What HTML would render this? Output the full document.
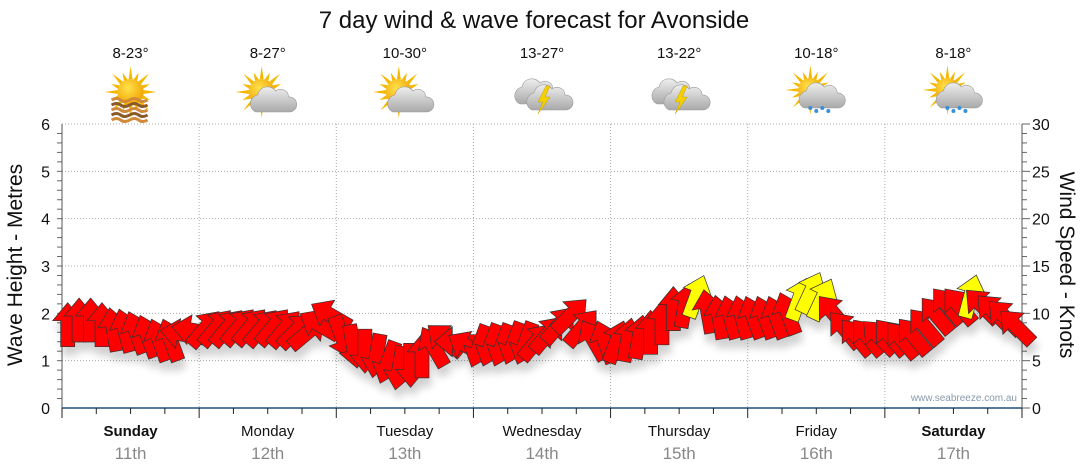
<!DOCTYPE html>
<html><head><meta charset="utf-8">
<style>
html,body{margin:0;padding:0;background:#fff;}
svg{display:block;font-family:"Liberation Sans",Arial,sans-serif;}
</style></head>
<body>
<svg id="chart" width="1080" height="475" viewBox="0 0 1080 475">
<defs>
<filter id="shadow" x="-50%" y="-50%" width="200%" height="200%">
<feGaussianBlur in="SourceAlpha" stdDeviation="4"/>
<feOffset dx="2" dy="9" result="b"/>
<feComponentTransfer><feFuncA type="linear" slope="0.18"/></feComponentTransfer>
<feMerge><feMergeNode/><feMergeNode in="SourceGraphic"/></feMerge>
</filter>
<radialGradient id="sunG" cx="0.4" cy="0.35" r="0.7"><stop offset="0" stop-color="#ffe24a"/><stop offset="1" stop-color="#f0a000"/></radialGradient>
<linearGradient id="cloudG" x1="0" y1="0" x2="0" y2="1"><stop offset="0" stop-color="#eeeeee"/><stop offset="1" stop-color="#a9a9a9"/></linearGradient>
</defs>
<text x="534" y="28" text-anchor="middle" font-size="24" fill="#111">7 day wind &amp; wave forecast for Avonside</text>
<g id="grid"></g>
<g id="axes"></g>
<g id="icons"></g>
<g id="arrows" filter="url(#shadow)"></g>
<text x="1017" y="401" text-anchor="end" font-size="10" fill="#8899aa">www.seabreeze.com.au</text>
<text transform="translate(22,265) rotate(-90)" text-anchor="middle" font-size="21" fill="#111">Wave Height - Metres</text>
<text transform="translate(1060,265) rotate(90)" text-anchor="middle" font-size="21" fill="#111">Wind Speed - Knots</text>
</svg>
<script>
const days = ["Sunday","Monday","Tuesday","Wednesday","Thursday","Friday","Saturday"];
const dates = ["11th","12th","13th","14th","15th","16th","17th"];
const boldDays = [true,false,false,false,false,false,true];
const temps = ["8-23°","8-27°","10-30°","13-27°","13-22°","10-18°","8-18°"];
const icons = ["sunhaze","partly","partly","storm","storm","rain","rain"];
const waveTicks = [0,1,2,3,4,5,6];
const windTicks = [0,5,10,15,20,25,30];
// wind speed every 2 hours (knots)
const windSpeed = [
8.8,9.3,9.3,8.8,8.3,8.2,8,7.6,7.2,7.2,7.8,8.2,
8.4,8.5,8.5,8.6,8.6,8.5,8.6,8.4,8.2,8,8.8,9.8,
7.5,6.5,6,5.5,4.8,4.2,4.5,5.5,6.5,7.2,7,6.5,
6.5,6.6,6.6,6.8,6.8,7,7.8,8.8,9.8,8.5,7.2,7,
7,7.2,7.5,8,9,10.5,10.8,11.8,10.2,9.6,9.6,9.6,
9.6,9.6,9.6,10,11.5,12.2,11.5,10,8.3,7.5,7.5,7.5,
7.5,7.2,7.6,8.6,9.8,10.8,10.8,11.8,10.8,10.2,9.6,8.6];
// direction the arrow points (deg, 0 = up, clockwise)
const windDir = [
0,0,0,0,-10,-15,-20,-20,-20,-20,-80,-80,
40,40,40,40,40,40,40,40,45,50,-60,-60,
160,170,180,190,200,190,180,0,-30,-50,-90,-60,
200,200,200,200,200,40,40,40,45,40,-30,-20,
20,10,10,0,0,0,10,20,-10,-10,-15,-15,
-20,-20,-20,-20,20,25,25,-40,-40,-40,-40,-45,
-40,-40,-40,-40,-40,-40,-40,15,-45,-45,-45,-45];

const svg = document.getElementById('chart');
const NS = "http://www.w3.org/2000/svg";
const X0=62, X1=1022, Y0=408, Y1=124;
const xH = h => X0 + h/168*(X1-X0);
const yWave = m => Y0 - m/6*(Y0-Y1);
const yWind = k => Y0 - k/30*(Y0-Y1);
function mk(tag, attrs, parent, text){
  const e=document.createElementNS(NS,tag);
  for(const k in attrs) e.setAttribute(k,attrs[k]);
  if(text!==undefined) e.textContent=text;
  parent.appendChild(e); return e;
}
const grid=document.getElementById('grid'), axes=document.getElementById('axes');
waveTicks.forEach(t=>{
  if(t>0){ const l=mk('line',{x1:X0,x2:X1,y1:yWave(t),y2:yWave(t),stroke:'#aaa','stroke-dasharray':'1,2'},grid);
    }
  const tx=mk('text',{x:X0-12,y:yWave(t)+6,'text-anchor':'end','font-size':16,fill:'#111'},axes,String(t));
   
});
for(let i=1;i<30;i++){
  const y=yWave(i*0.2);
  mk('line',{x1:X0-5,x2:X0,y1:y,y2:y,stroke:'#666'},axes);
}
for(let i=0;i<=30;i++){ const y=yWind(i); mk('line',{x1:X1,x2:X1+(i%5===0?8:5),y1:y,y2:y,stroke:'#666'},axes); }
windTicks.forEach(t=>{
  const tx=mk('text',{x:X1+10,y:yWind(t)+6,'font-size':16,fill:'#111'},axes,String(t));
   
});
mk('line',{x1:X0,x2:X0,y1:Y1,y2:Y0,stroke:'#555'},axes);
mk('line',{x1:X1,x2:X1,y1:Y1,y2:Y0,stroke:'#555'},axes);
const xa=mk('line',{x1:X0,x2:X1,y1:Y0,y2:Y0,stroke:'#1f4e79','stroke-width':1.5},axes);
 
for(let h=0;h<=168;h+=6){
  const x=xH(h); const major=h%24===0;
  mk('line',{x1:x,x2:x,y1:Y0,y2:Y0+(major?10:6),stroke:'#222'},axes);
  if(major && h>0 && h<168){ const g=mk('line',{x1:x,x2:x,y1:Y1,y2:Y0,stroke:'#aaa','stroke-dasharray':'1,2'},grid);
     }
}
days.forEach((d,i)=>{
  const cx=xH(i*24+12);
  const t=mk('text',{x:cx,y:436,'text-anchor':'middle','font-size':15,fill:'#111','font-weight':boldDays[i]?'bold':'normal'},axes,d);
   
  const t2=mk('text',{x:cx,y:459,'text-anchor':'middle','font-size':17,fill:'#888'},axes,dates[i]);
   
  const t3=mk('text',{x:cx,y:58,'text-anchor':'middle','font-size':15,fill:'#111'},axes,temps[i]);
   
  drawIcon(icons[i],cx,96);
});
function sun(g,x,y,r){
  for(let a=0;a<360;a+=22.5){
    const rad=a*Math.PI/180, L=(a%45===0)?r+13:r+8;
    const p1=[x+Math.cos(rad)*L,y+Math.sin(rad)*L];
    const p2=[x+Math.cos(rad+0.15)*r,y+Math.sin(rad+0.15)*r];
    const p3=[x+Math.cos(rad-0.15)*r,y+Math.sin(rad-0.15)*r];
    mk('polygon',{points:[p1,p2,p3].map(p=>p.join(',')).join(' '),fill:'#f5b800'},g);
  }
  mk('circle',{cx:x,cy:y,r:r,fill:'url(#sunG)'},g);
}
function cloud(g,x,y,s){
  mk('path',{d:`M${x-16*s},${y+10*s} a9 9 0 0 1 2,-17 a10 10 0 0 1 18,-4 a8 8 0 0 1 13,6 a7 7 0 0 1 1,15 z`,fill:'url(#cloudG)',stroke:'#999','stroke-width':0.6},g);
}
function drawIcon(type,x,y){
  const g=mk('g',{},document.getElementById('icons'));
   
  if(type==='sunhaze'){
    sun(g,x,y-4,13);
    for(let i=0;i<5;i++) mk('path',{d:`M${x-19},${y+4+i*5} q5,-3 9,0 t9,0 t9,0 t9,0`,stroke:i%2?'#8b5a2b':'#d08a3a','stroke-width':3,fill:'none'},g);
  } else if(type==='partly'){
    sun(g,x-6,y-4,13); cloud(g,x+4,y+6,1);
  } else if(type==='storm'){
    cloud(g,x-6,y-2,1); cloud(g,x+6,y+4,1);
    mk('polygon',{points:`${x+4},${y-10} ${x-4},${y+6} ${x+1},${y+6} ${x-4},${y+18} ${x+8},${y+1} ${x+3},${y+1} ${x+8},${y-10}`,fill:'#f5d000',stroke:'#c9a000','stroke-width':0.5},g);
  } else {
    sun(g,x-6,y-6,12); cloud(g,x+4,y+2,1);
    for(let i=0;i<4;i++){ mk('circle',{cx:x-6+i*6,cy:y+12+(i%2)*3,r:2,fill:'#3a8fd8'},g); }
  }
}
const ag=document.getElementById('arrows');
windSpeed.forEach((s,i)=>{
  const x=xH(i*2+1), y=yWind(s), r=windDir[i];
  const p=mk('polygon',{points:'0,-22 15,-4 7,-4 7,22 -7,22 -7,-4 -15,-4',
    fill:s>=11?'#ffff00':'#ff0000',stroke:'#333','stroke-width':0.7,
    transform:`translate(${x.toFixed(1)},${y.toFixed(1)}) rotate(${r})`},ag);
  
  
});
</script>
</body></html>
